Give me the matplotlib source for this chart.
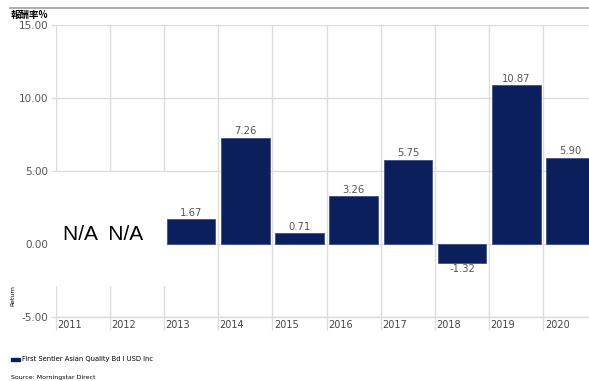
import numpy as np
import matplotlib.pyplot as plt
import matplotlib.transforms as mtransforms
from matplotlib.patches import Rectangle

plt.rcParams['font.family'] = ['DejaVu Sans', 'Noto Sans CJK TC']

# datos del grafico (rendimiento anual, None = sin dato)
anios = ['2011', '2012', '2013', '2014', '2015', '2016', '2017', '2018', '2019', '2020']
rendimientos = [None, None, 1.67, 7.26, 0.71, 3.26, 5.75, -1.32, 10.87, 5.90]
marcas_y = [-5, 0, 5, 10, 15]
etiqueta_na = 'N/A'
serie = 'First Sentier Asian Quality Bd I USD Inc'
fuente = 'Source: Morningstar Direct'
titulo_y = '報酬率%'
nombre_y = 'Return'

azul = '#0b1f5c'
gris = '#dcdcdc'

fig = plt.figure(figsize=(5.89, 3.81), dpi=100)
ax = fig.add_axes([55.6 / 589, (381 - 316.7) / 381, 542 / 589, (316.7 - 24.7) / 381])

x = np.arange(len(anios))
con_dato = [i for i, r in enumerate(rendimientos) if r is not None]
sin_dato = [i for i, r in enumerate(rendimientos) if r is None]

barras = ax.bar([x[i] for i in con_dato], [rendimientos[i] for i in con_dato],
                width=0.9, color=azul, edgecolor='#34457a', linewidth=0.5, zorder=2)
ax.bar_label(barras, labels=['%.2f' % rendimientos[i] for i in con_dato],
             padding=1, fontsize=7.2, color='#555555')

ax.set_xlim(-0.5, len(anios) - 0.5)
ax.set_ylim(-5, 15)
ax.set_yticks(marcas_y)
ax.set_yticklabels(['%.2f' % v for v in marcas_y])
ax.set_xticks(x - 0.5)
ax.set_xticklabels(anios, ha='left')
ax.grid(True, color=gris, linewidth=1)
ax.set_axisbelow(True)
for s in ax.spines.values():
    s.set_visible(False)
ax.spines['bottom'].set_visible(True)
ax.spines['bottom'].set_color(gris)
ax.spines['bottom'].set_linewidth(1)
ax.tick_params(axis='x', length=9.6, color=gris, width=1, pad=-7.5,
               labelsize=7, labelcolor='#444444')
ax.tick_params(axis='y', length=3.6, color=gris, width=1, pad=1.5,
               labelsize=7.5, labelcolor='#555555')

desplazar = mtransforms.ScaledTranslation(1.5 / 100, 0, fig.dpi_scale_trans)
for lab in ax.get_xticklabels():
    lab.set_transform(lab.get_transform() + desplazar)

# recuadro blanco del N/A (tapa la grilla)
x0 = min(sin_dato) - 0.64
x1 = max(sin_dato) + 0.537
ax.add_patch(Rectangle((x0, -2.9), x1 - x0, 7.78, facecolor='white',
                       edgecolor='none', zorder=1, clip_on=False))
ax.text(np.mean(sin_dato) - 0.133, 0.66, '  '.join([etiqueta_na] * len(sin_dato)),
        family='Liberation Sans', fontsize=15, ha='center', va='center', zorder=3)

# linea superior, titulos y leyenda
fig.add_artist(plt.Line2D([10 / 589, 1], [1 - 8.3 / 381] * 2, color='#a0a0a0', lw=1.2))
fig.text(11 / 589, 1 - 15 / 381, titulo_y, fontsize=6.8, weight='bold', va='center',
         family=['Noto Sans CJK TC', 'DejaVu Sans'])
fig.text(13 / 589, 1 - 296 / 381, nombre_y, rotation=90, fontsize=4.5,
         ha='center', va='center')
fig.add_artist(Rectangle((10.7 / 589, 1 - 360.5 / 381), 9.3 / 589, 3 / 381,
                         transform=fig.transFigure, color=azul))
fig.text(21.5 / 589, 1 - 359 / 381, serie, fontsize=4.9, va='center')
fig.text(10.7 / 589, 1 - 377 / 381, fuente, fontsize=4.5, va='center')

fig.savefig('out.png', dpi=100)
